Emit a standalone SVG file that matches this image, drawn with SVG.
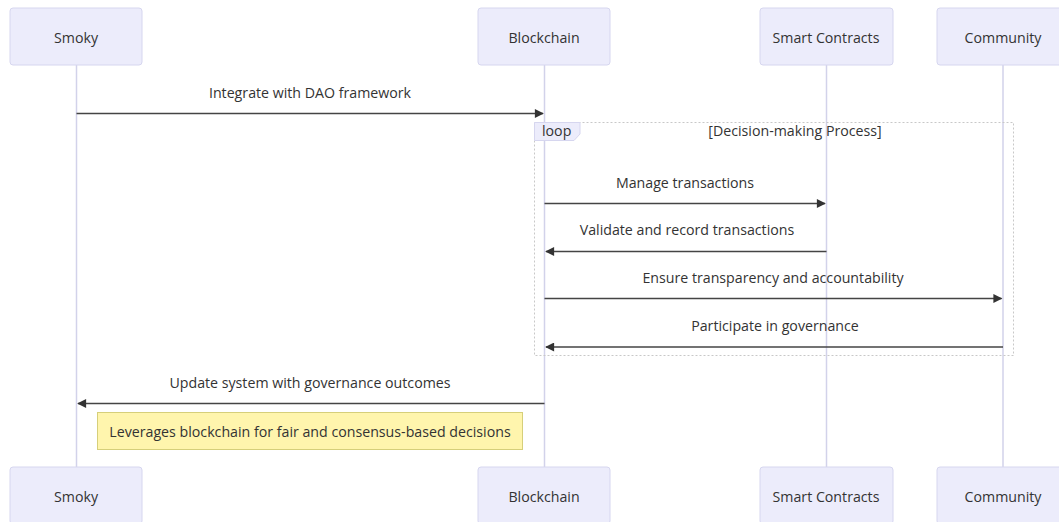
<svg xmlns="http://www.w3.org/2000/svg" width="1059" height="522" viewBox="0 0 1059 522">
  <style>
    text { font-family: "Open Sans", "Noto Sans", "Liberation Sans", sans-serif; font-size: 14.2px; fill: #333333; }
    .actor { fill: #ececfb; stroke: #d6d6ef; stroke-width: 1; }
    .actor-label { text-anchor: middle; dominant-baseline: central; }
    .lifeline { stroke: #d2d2ea; stroke-width: 1.5; }
    .msg { stroke: #444444; stroke-width: 1.5; fill: none; }
    .msg-label { text-anchor: middle; }
    .loop-box { fill: none; stroke: #c8c8c8; stroke-width: 1; stroke-dasharray: 2 2; }
    .loop-tab { fill: #ececfb; stroke: #d6d6ef; stroke-width: 1; }
    .note { fill: #fff5ad; stroke: #d6cf7a; stroke-width: 1; }
  </style>
  <defs>
    <marker id="arrowhead" viewBox="0 0 10 10" refX="9" refY="5" markerWidth="10" markerHeight="9" orient="auto-start-reverse" markerUnits="userSpaceOnUse">
      <path d="M0,0 L10,5 L0,10 z" fill="#333333"/>
    </marker>
  </defs>
  <rect width="1059" height="522" fill="#ffffff"/>

  <!-- lifelines -->
  <g id="lifelines">
    <line class="lifeline" x1="76.5" y1="65" x2="76.5" y2="467"/>
    <line class="lifeline" x1="544.5" y1="65" x2="544.5" y2="467"/>
    <line class="lifeline" x1="826.5" y1="65" x2="826.5" y2="467"/>
    <line class="lifeline" x1="1003" y1="65" x2="1003" y2="467"/>
  </g>

  <!-- participants, top -->
  <g id="actor-smoky-top">
    <rect class="actor" x="10" y="8" width="132" height="57" rx="3"/>
    <text class="actor-label" x="76" y="37">Smoky</text>
  </g>
  <g id="actor-blockchain-top">
    <rect class="actor" x="478" y="8" width="132" height="57" rx="3"/>
    <text class="actor-label" x="544" y="37">Blockchain</text>
  </g>
  <g id="actor-contracts-top">
    <rect class="actor" x="760" y="8" width="133" height="57" rx="3"/>
    <text class="actor-label" x="826" y="37">Smart Contracts</text>
  </g>
  <g id="actor-community-top">
    <rect class="actor" x="937" y="8" width="132" height="57" rx="3"/>
    <text class="actor-label" x="1003" y="37">Community</text>
  </g>

  <!-- loop frame -->
  <g id="loop-decision">
    <rect class="loop-box" x="534.5" y="122.5" width="479" height="233"/>
    <path class="loop-tab" d="M534.5,122.5 H580 V134 L574,140.5 H534.5 Z"/>
    <text x="542" y="136">loop</text>
    <text x="795" y="136" text-anchor="middle">[Decision-making Process]</text>
  </g>

  <!-- messages -->
  <g id="connectors">
    <text class="msg-label" x="310" y="98">Integrate with DAO framework</text>
    <line class="msg" x1="76.5" y1="113.5" x2="543" y2="113.5" marker-end="url(#arrowhead)"/>

    <text class="msg-label" x="685" y="188">Manage transactions</text>
    <line class="msg" x1="544.5" y1="203.5" x2="825" y2="203.5" marker-end="url(#arrowhead)"/>

    <text class="msg-label" x="687" y="235">Validate and record transactions</text>
    <line class="msg" x1="826.5" y1="251.5" x2="546" y2="251.5" marker-end="url(#arrowhead)"/>

    <text class="msg-label" x="773" y="283">Ensure transparency and accountability</text>
    <line class="msg" x1="544.5" y1="298.5" x2="1001.5" y2="298.5" marker-end="url(#arrowhead)"/>

    <text class="msg-label" x="775" y="331">Participate in governance</text>
    <line class="msg" x1="1003" y1="347" x2="546" y2="347" marker-end="url(#arrowhead)"/>

    <text class="msg-label" x="310" y="388">Update system with governance outcomes</text>
    <line class="msg" x1="544.5" y1="403.5" x2="78" y2="403.5" marker-end="url(#arrowhead)"/>
  </g>

  <!-- note -->
  <g id="note-smoky">
    <rect class="note" x="97.5" y="412.5" width="425" height="37"/>
    <text x="310" y="431" text-anchor="middle" dominant-baseline="central">Leverages blockchain for fair and consensus-based decisions</text>
  </g>

  <!-- participants, bottom -->
  <g id="actor-smoky-bottom">
    <rect class="actor" x="10" y="467" width="132" height="57" rx="3"/>
    <text class="actor-label" x="76" y="496">Smoky</text>
  </g>
  <g id="actor-blockchain-bottom">
    <rect class="actor" x="478" y="467" width="132" height="57" rx="3"/>
    <text class="actor-label" x="544" y="496">Blockchain</text>
  </g>
  <g id="actor-contracts-bottom">
    <rect class="actor" x="760" y="467" width="133" height="57" rx="3"/>
    <text class="actor-label" x="826" y="496">Smart Contracts</text>
  </g>
  <g id="actor-community-bottom">
    <rect class="actor" x="937" y="467" width="132" height="57" rx="3"/>
    <text class="actor-label" x="1003" y="496">Community</text>
  </g>
</svg>
